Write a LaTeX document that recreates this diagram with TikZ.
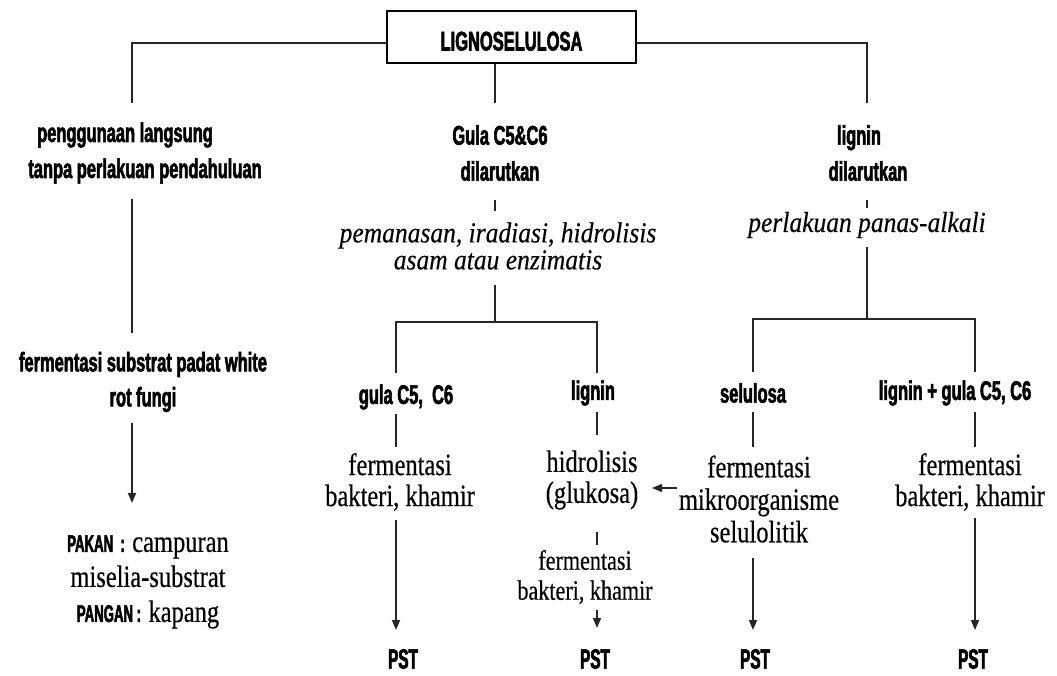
\documentclass[tikz,border=0pt]{standalone}
\usepackage{fontspec}
\setmainfont{Liberation Serif}[FakeStretch=0.79,FakeBold=0.4]
\newfontfamily\itn{Liberation Serif Italic}[FakeStretch=0.88,FakeBold=0.3]
\newfontfamily\cond{Liberation Sans Bold}[FakeStretch=0.61,FakeBold=2]
\newfontfamily\condn{Liberation Sans Bold}[FakeStretch=0.55,FakeBold=2.2]
\usetikzlibrary{arrows.meta}
\newcommand\bk[1]{{\condn\fontsize{24}{24}\selectfont #1}}
\begin{document}
\begin{tikzpicture}[x=1pt,y=-1pt,
  ln/.style={line width=1.6pt, draw=black!85},
  arr/.style={ln, -{Triangle[width=8pt,length=10pt]}},
  lab/.style={font=\cond\fontsize{27}{36}\selectfont, align=center, inner sep=0pt},
  sub/.style={font=\cond\fontsize{27}{30}\selectfont, inner sep=0pt},
  pst/.style={font=\condn\fontsize{28}{30}\selectfont, inner sep=0pt},
  ser/.style={font=\fontsize{31}{31}\selectfont, align=center, inner sep=0pt},
  sers/.style={font=\fontsize{28}{30}\selectfont, align=center, inner sep=0pt},
  ita/.style={font=\itn\fontsize{29}{27}\selectfont, align=center, inner sep=0pt}]
\useasboundingbox (0,0) rectangle (1057,675);

% root
\node[draw, line width=1.6pt, minimum width=249pt, minimum height=52pt,
      inner sep=0pt, text height=27pt, text depth=0pt,
      font=\cond\fontsize{27}{30}\selectfont] (root) at (511.5,37) {LIGNOSELULOSA};

% first level labels
\node[lab] (n1) at (145,153) {penggunaan langsung\hspace*{40pt}\\tanpa perlakuan pendahuluan};
\node[lab] (n2) at (500,153) {Gula C5\&C6\\dilarutkan};
\node[lab] (n3) at (868,153) {lignin\hspace*{18pt}\\dilarutkan};
\node[ita] (i2) at (498,246) {pemanasan, iradiasi, hidrolisis\\asam atau enzimatis};
\node[ita] (i3) at (867,225) {perlakuan panas-alkali};
\node[lab, font=\cond\fontsize{27}{35}\selectfont] (n4) at (143,382) {fermentasi substrat padat white\\rot fungi};
\node[ser, font=\fontsize{31}{35}\selectfont] (n5) at (148,582) {\bk{PAKAN\ \ :\ \ }campuran\\miselia-substrat\\\bk{PANGAN\ :\ \ }kapang};

% second level
\node[sub] (g1) at (406,397) {gula C5,\ \ C6};
\node[ser] (f1) at (400,482) {fermentasi\\bakteri, khamir};
\node[pst] (p1) at (403,659) {PST};
\node[sub] (g2) at (593,393) {lignin};
\node[ser] (h2) at (592,480) {hidrolisis\\(glukosa)};
\node[sers] (f2) at (585,577) {fermentasi\\bakteri, khamir};
\node[pst] (p2) at (595,659) {PST};
\node[sub] (g3) at (753,393) {selulosa};
\node[ser, font=\fontsize{31}{32.5}\selectfont] (f3) at (759,499) {fermentasi\\mikroorganisme\\selulolitik};
\node[pst] (p3) at (755,659) {PST};
\node[sub] (g4) at (955,393) {lignin + gula C5, C6};
\node[ser] (f4) at (970,482) {fermentasi\\bakteri, khamir};
\node[pst] (p4) at (973,659) {PST};

% coordinates
\coordinate (a1) at (132,103);
\coordinate (a2) at (495,103);
\coordinate (a3) at (867,103);
\coordinate (l1) at (132,199); \coordinate (l2) at (132,333);
\coordinate (l3) at (132,423); \coordinate (l4) at (132,503);
\coordinate (c1) at (495,200); \coordinate (c2) at (495,211);
\coordinate (c3) at (495,285); \coordinate (c4) at (495,322);
\coordinate (cl) at (396,373); \coordinate (cr) at (597,373);
\coordinate (r1) at (867,200); \coordinate (r2) at (867,208);
\coordinate (r3) at (867,247); \coordinate (r4) at (867,319);
\coordinate (rl) at (753,372); \coordinate (rr) at (975,372);
\coordinate (s1a) at (396,414); \coordinate (s1b) at (396,447);
\coordinate (s1c) at (396,520); \coordinate (s1d) at (396,630);
\coordinate (s2a) at (597,412); \coordinate (s2b) at (597,435);
\coordinate (s2c) at (597,532); \coordinate (s2d) at (597,545);
\coordinate (s2e) at (597,610); \coordinate (s2f) at (597,628);
\coordinate (s3a) at (753,412); \coordinate (s3b) at (753,447);
\coordinate (s3c) at (753,558); \coordinate (s3d) at (753,630);
\coordinate (s4a) at (975,412); \coordinate (s4b) at (975,447);
\coordinate (s4c) at (975,518); \coordinate (s4d) at (975,630);
\coordinate (ha) at (677,488); \coordinate (hb) at (652,488);

% connectors
\draw[ln] ([yshift=-6pt]root.west) -| (a1);
\draw[ln] (root.south -| a2) -- (a2);
\draw[ln] ([yshift=-6pt]root.east) -| (a3);
\draw[ln] (l1) -- (l2);
\draw[arr] (l3) -- (l4);
\draw[ln] (c1) -- (c2);
\draw[ln] (c3) -- (c4);
\draw[ln] (cl) |- (c4) -| (cr);
\draw[ln] (r1) -- (r2);
\draw[ln] (r3) -- (r4);
\draw[ln] (rl) |- (r4) -| (rr);
\draw[ln] (s1a) -- (s1b);
\draw[arr] (s1c) -- (s1d);
\draw[ln] (s2a) -- (s2b);
\draw[ln] (s2c) -- (s2d);
\draw[arr] (s2e) -- (s2f);
\draw[ln] (s3a) -- (s3b);
\draw[arr] (s3c) -- (s3d);
\draw[ln] (s4a) -- (s4b);
\draw[arr] (s4c) -- (s4d);
\draw[arr] (ha) -- (hb);
\end{tikzpicture}
\end{document}
